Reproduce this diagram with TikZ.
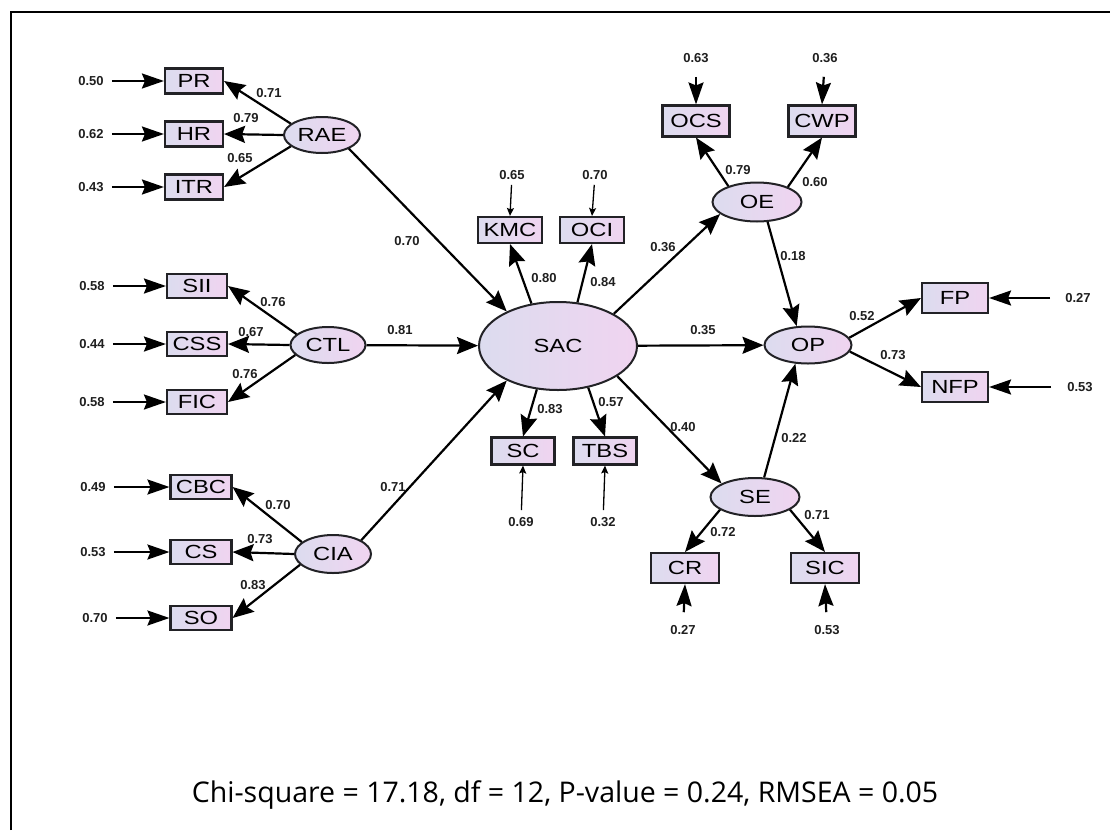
\documentclass[tikz,border=0pt]{standalone}
\usepackage{fontspec}
\setmainfont{Liberation Sans}
\newfontfamily\boxfont[FakeStretch=1.25]{Liberation Sans}
\newfontfamily\notefont{Open Sans}
\usetikzlibrary{arrows.meta,shapes.geometric}

\definecolor{fillL}{RGB}{220,220,239}
\definecolor{fillR}{RGB}{240,212,240}
\definecolor{edgecol}{RGB}{34,34,38}

\begin{document}
\begin{tikzpicture}[x=1pt,y=-1pt,
  obs/.style={draw=edgecol,line width=2.1pt,rectangle,inner sep=0pt,
    left color=fillL,right color=fillR,
    font=\boxfont\fontsize{19}{19}\selectfont},
  lat/.style={draw=edgecol,line width=2pt,ellipse,inner sep=0pt,
    left color=fillL,right color=fillR,
    font=\boxfont\fontsize{19}{19}\selectfont},
  boxA/.style={obs,minimum width=58pt,minimum height=25pt},
  boxB/.style={obs,minimum width=60pt,minimum height=24pt},
  boxC/.style={obs,minimum width=61pt,minimum height=24pt},
  boxD/.style={obs,minimum width=64pt,minimum height=26pt},
  boxE/.style={obs,minimum width=63pt,minimum height=27pt},
  boxF/.style={obs,minimum width=67pt,minimum height=31pt},
  boxG/.style={obs,minimum width=66pt,minimum height=30pt},
  boxH/.style={obs,minimum width=68pt,minimum height=30pt},
  num/.style={font=\bfseries\fontsize{13}{13}\selectfont,inner sep=1pt,text=black!88},
  load/.style={line width=2.2pt,draw=black,
    -{Stealth[length=21pt,width=17pt,inset=3pt]}},
  errarr/.style={line width=2.2pt,draw=black,
    -{Stealth[length=22pt,width=15pt,inset=3pt]}},
  thinarr/.style={line width=1.3pt,draw=black,
    -{Stealth[length=8pt,width=7pt,inset=1.5pt]}}
]
\useasboundingbox (0,0) rectangle (1110,830);
\fill[white] (0,0) rectangle (1110,830);
% frame
\draw[line width=2pt] (11,830) -- (11,12) -- (1110,12);

% ---------- latent variables ----------
\node[lat,minimum width=76pt,minimum height=36pt] (RAE) at (322,135) {RAE};
\node[lat,minimum width=75pt,minimum height=36pt] (CTL) at (328,345) {CTL};
\node[lat,minimum width=76pt,minimum height=38pt] (CIA) at (333,554) {CIA};
\node[lat,minimum width=158pt,minimum height=88pt] (SAC) at (558,346) {SAC};
\node[lat,minimum width=89pt,minimum height=39pt] (OE) at (757,202) {OE};
\node[lat,minimum width=87pt,minimum height=37pt] (OP) at (808,345) {OP};
\node[lat,minimum width=89pt,minimum height=38pt] (SE) at (755,497) {SE};

% ---------- observed indicators ----------
\node[boxA] (PR)  at (194,81)  {PR};
\node[boxA] (HR)  at (194,134) {HR};
\node[boxA] (ITR) at (194,187) {ITR};
\node[boxB] (SII) at (197,286) {SII};
\node[boxB] (CSS) at (197,344) {CSS};
\node[boxB] (FIC) at (197,402) {FIC};
\node[boxC] (CBC) at (201,487) {CBC};
\node[boxC] (CS)  at (201,552) {CS};
\node[boxC] (SO)  at (201,618) {SO};
\node[boxD] (KMC) at (510,230) {KMC};
\node[boxD] (OCI) at (592,230) {OCI};
\node[boxE] (SC)  at (523,451) {SC};
\node[boxE] (TBS) at (605,451) {TBS};
\node[boxF] (OCS) at (696,121) {OCS};
\node[boxF] (CWP) at (822,121) {CWP};
\node[boxG] (FP)  at (955,298) {FP};
\node[boxG] (NFP) at (955,387) {NFP};
\node[boxH] (CR)  at (685,568) {CR};
\node[boxH] (SIC) at (825,568) {SIC};

% ---------- error terms ----------
\node[num] (ePR)  at (91,81)   {0.50};
\node[num] (eHR)  at (91,134)  {0.62};
\node[num] (eITR) at (91,187)  {0.43};
\node[num] (eSII) at (92,286)  {0.58};
\node[num] (eCSS) at (92,344)  {0.44};
\node[num] (eFIC) at (92,402)  {0.58};
\node[num] (eCBC) at (93,487)  {0.49};
\node[num] (eCS)  at (93,552)  {0.53};
\node[num] (eSO)  at (95,618)  {0.70};
\node[num] (eKMC) at (512,175) {0.65};
\node[num] (eOCI) at (595,175) {0.70};
\node[num] (eSC)  at (521,522) {0.69};
\node[num] (eTBS) at (603,522) {0.32};
\node[num] (eOCS) at (696,58)  {0.63};
\node[num] (eCWP) at (825,58)  {0.36};
\node[num] (eFP)  at (1078,298) {0.27};
\node[num] (eNFP) at (1080,387) {0.53};
\node[num] (eCR)  at (683,630) {0.27};
\node[num] (eSIC) at (827,630) {0.53};

\foreach \e/\b in {ePR/PR,eHR/HR,eITR/ITR,eSII/SII,eCSS/CSS,eFIC/FIC,eCBC/CBC,eCS/CS,eSO/SO}
  \draw[errarr,shorten <=7pt] (\e) -- (\b.west);
\draw[errarr,shorten <=14pt] (eFP) -- (FP.east);
\draw[errarr,shorten <=15pt] (eNFP) -- (NFP.east);
\draw[errarr,shorten <=13pt] (eOCS) -- (OCS.north);
\draw[errarr,shorten <=13pt] (eCWP) -- (CWP.north);
\draw[errarr,shorten <=12pt] (eCR) -- (CR.south);
\draw[errarr,shorten <=12pt] (eSIC) -- (SIC.south);
\draw[thinarr,shorten <=4pt] (eKMC) -- (KMC.north);
\draw[thinarr,shorten <=4pt] (eOCI) -- (OCI.north);
\draw[thinarr,shorten <=6pt] (eSC) -- (SC.south);
\draw[thinarr,shorten <=6pt] (eTBS) -- (TBS.south);

% ---------- measurement paths ----------
\draw[load] (RAE.160) -- (PR.east);
\draw[load] (RAE.west) -- (HR.east);
\draw[load] (RAE.200) -- (ITR.east);
\draw[load] (CTL.161) -- (SII.east);
\draw[load] (CTL.west) -- (CSS.east);
\draw[load] (CTL.197) -- (FIC.east);
\draw[load] (CIA.159) -- (CBC.east);
\draw[load] (CIA.west) -- (CS.east);
\draw[load] (CIA.198) -- (SO.east);
\draw[load] (SAC.122) -- (KMC.south);
\draw[load] (SAC.66) -- (OCI.south);
\draw[load] (SAC.244) -- (SC.north);
\draw[load] (SAC.306) -- (TBS.north);
\draw[load] (OE.151) -- (OCS.south);
\draw[load] (OE.26) -- (CWP.south);
\draw[load] (OP.10) -- (FP.west);
\draw[load] (OP.-9) -- (NFP.west);
\draw[load] (SE.200) -- (CR.north);
\draw[load] (SE.340) -- (SIC.north);

% ---------- structural paths ----------
\draw[load] (RAE.333) -- (SAC.146);
\draw[load] (CTL) -- (SAC);
\draw[load] (CIA.26) -- (SAC.214);
\draw[load] (SAC.30) -- (OE.198);
\draw[load] (SAC) -- (OP);
\draw[load] (SAC.333) -- (SE.158);
\draw[load] (OE.298) -- (OP.121);
\draw[load] (SE.65) -- (OP.236);

% ---------- coefficients ----------
\node[num] (cPR)  at (269,93)  {0.71};
\node[num] (cHR)  at (246,118) {0.79};
\node[num] (cITR) at (240,158) {0.65};
\node[num] (cSII) at (273,302) {0.76};
\node[num] (cCSS) at (251,332) {0.67};
\node[num] (cFIC) at (245,374) {0.76};
\node[num] (cCBC) at (278,505) {0.70};
\node[num] (cCS)  at (260,539) {0.73};
\node[num] (cSO)  at (253,585) {0.83};
\node[num] (cRAE) at (407,241) {0.70};
\node[num] (cCTL) at (400,330) {0.81};
\node[num] (cCIA) at (393,487) {0.71};
\node[num] (cKMC) at (544,278) {0.80};
\node[num] (cOCI) at (603,282) {0.84};
\node[num] (cSC)  at (550,409) {0.83};
\node[num] (cTBS) at (611,402) {0.57};
\node[num] (cOE)  at (663,247) {0.36};
\node[num] (cOP)  at (703,330) {0.35};
\node[num] (cSE)  at (683,427) {0.40};
\node[num] (cOCS) at (738,170) {0.79};
\node[num] (cCWP) at (815,182) {0.60};
\node[num] (cOEOP) at (793,256) {0.18};
\node[num] (cSEOP) at (794,438) {0.22};
\node[num] (cFP)  at (862,316) {0.52};
\node[num] (cNFP) at (893,355) {0.73};
\node[num] (cCR)  at (723,532) {0.72};
\node[num] (cSIC) at (817,515) {0.71};

% ---------- fit indices ----------
\node[font=\notefont\fontsize{28.5}{28.5}\selectfont,inner sep=0pt] (fit) at (565,795)
  {Chi-square = 17.18, df = 12, P-value = 0.24, RMSEA = 0.05};
\end{tikzpicture}
\end{document}
